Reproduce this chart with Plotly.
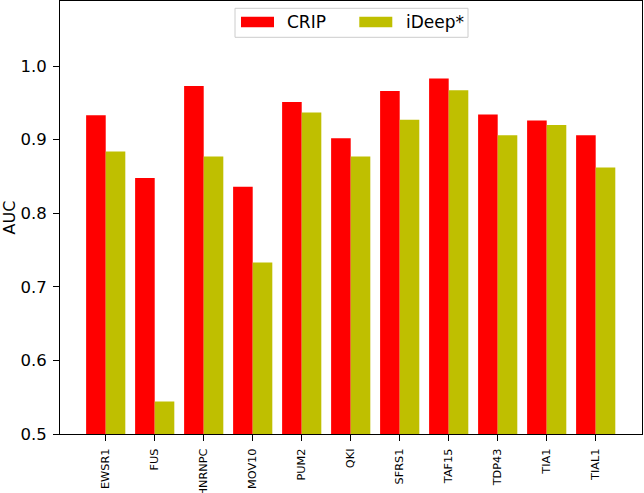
import plotly.graph_objects as go

categories = ["EWSR1", "FUS", "HNRNPC", "MOV10", "PUM2", "QKI", "SFRS1",
              "TAF15", "TDP43", "TIA1", "TIAL1"]
crip = [0.933, 0.848, 0.973, 0.836, 0.951, 0.902, 0.966, 0.983, 0.934, 0.926, 0.906]
ideep = [0.884, 0.544, 0.877, 0.733, 0.937, 0.877, 0.927, 0.967, 0.906, 0.920, 0.862]
series_names = ["CRIP", "iDeep*"]
series_colors = ["#ff0000", "#bfbf00"]
y_ticks = [0.5, 0.6, 0.7, 0.8, 0.9, 1.0]

FONT = "DejaVu Sans"
W, H = 644, 493
ML, MR, MT, MB = 60, 2, 1, 59
PW, PH = W - ML - MR, H - MT - MB


def px(x):
    return (x - ML) / PW


def py(y):
    return (H - MB - y) / PH


fig = go.Figure()
for name, vals, col in zip(series_names, [crip, ideep], series_colors):
    fig.add_trace(go.Bar(x=categories, y=vals, name=name, showlegend=False,
                         marker=dict(color=col, line=dict(width=0))))

# legend (upper center, matplotlib style)
shapes = [dict(type="rect", xref="paper", yref="paper",
               x0=px(235), x1=px(468), y0=py(37.3), y1=py(8.3),
               line=dict(color="#cccccc", width=1), fillcolor="rgba(255,255,255,0.8)",
               layer="above")]
annotations = []
patch_x = [241, 359.3]
text_x = [287, 406]
for i, name in enumerate(series_names):
    shapes.append(dict(type="rect", xref="paper", yref="paper",
                       x0=px(patch_x[i]), x1=px(patch_x[i] + 33),
                       y0=py(27.3), y1=py(16.7),
                       line=dict(width=0), fillcolor=series_colors[i], layer="above"))
    annotations.append(dict(xref="paper", yref="paper", x=px(text_x[i] - 2), y=py(22),
                            xanchor="left", yanchor="middle", showarrow=False,
                            text=name, font=dict(family=FONT, size=17, color="black")))

fig.update_layout(
    width=W, height=H,
    margin=dict(l=ML, r=MR, t=MT, b=MB, autoexpand=False),
    paper_bgcolor="white", plot_bgcolor="white",
    barmode="group", bargap=0.2, bargroupgap=0,
    font=dict(family=FONT, color="black"),
    showlegend=False,
    shapes=shapes, annotations=annotations,
    xaxis=dict(
        type="category", range=[-0.933, 10.945], automargin=False,
        showline=True, linecolor="black", linewidth=1, mirror=True,
        ticks="outside", ticklen=6, tickcolor="black", tickwidth=1,
        tickangle=-90, tickfont=dict(family=FONT, size=11.3, color="black"),
        ticklabelstandoff=3,
        showgrid=False, zeroline=False,
    ),
    yaxis=dict(
        range=[0.5, 1.0884], tickvals=y_ticks, tickformat=".1f", automargin=False,
        showline=True, linecolor="black", linewidth=1, mirror=True,
        ticks="outside", ticklen=6, tickcolor="black", tickwidth=1,
        tickfont=dict(family=FONT, size=16.5, color="black"),
        ticklabelstandoff=3,
        showgrid=False, zeroline=False,
        title=dict(text="AUC", font=dict(family=FONT, size=16, color="black")),
    ),
)

fig.write_html("out.html", config={"displayModeBar": False},
               post_script="document.body.style.margin='0';")
